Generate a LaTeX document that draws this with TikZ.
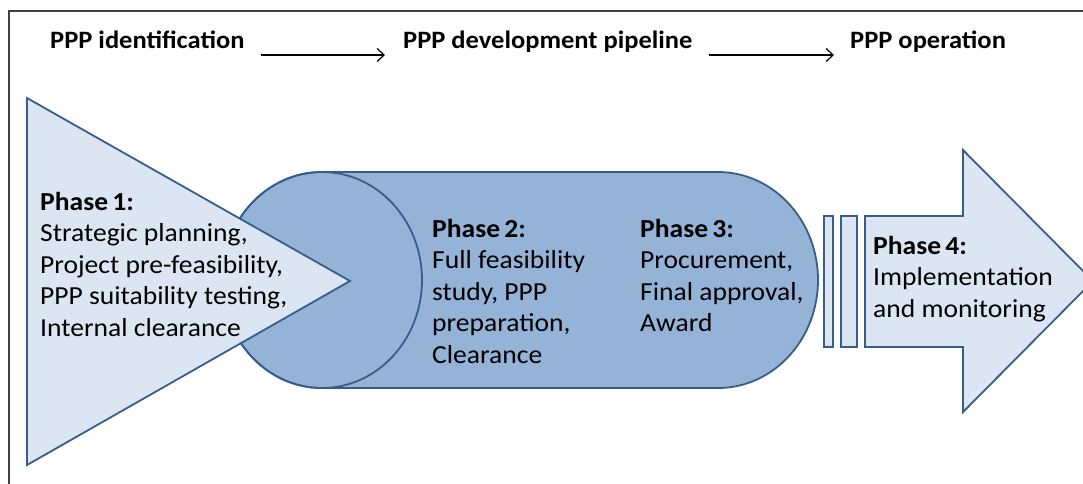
\documentclass[tikz,border=0pt]{standalone}
\usepackage{fontspec}
\setmainfont{Carlito}[FakeStretch=1.06]
\usetikzlibrary{arrows.meta,positioning}
\definecolor{edgeblue}{RGB}{56,93,138}
\definecolor{lightfill}{RGB}{220,230,242}
\definecolor{pipefill}{RGB}{149,179,215}

\begin{document}
\begin{tikzpicture}[x=1pt,y=-1pt,
  shapeline/.style={draw=edgeblue,line width=1.8pt,line join=miter},
  headtext/.style={font=\bfseries\fontsize{25}{30}\selectfont,inner sep=0pt,anchor=base west},
  phasetext/.style={font=\fontsize{26}{31.5}\selectfont,align=left,inner sep=0pt,anchor=north west},
  flow/.style={line width=1.2pt,-{Straight Barb[length=7pt,width=13pt]}}]
\useasboundingbox (0,0) rectangle (1083,483);
\clip (0,0) rectangle (1083,483);
\draw[black!75,line width=2pt] (9,11) rectangle (1120,520);

% header
\node[headtext] (ident) at (50,48) {PPP identification};
\node[headtext] (devel) at (403,48) {PPP development pipeline};
\node[headtext] (oper) at (850,48) {PPP operation};
\draw[flow] ([xshift=16pt,yshift=-7pt]ident.base east) -- ([xshift=-18pt,yshift=-7pt]devel.base west);
\draw[flow] ([xshift=16pt,yshift=-7pt]devel.base east) -- ([xshift=-16pt,yshift=-7pt]oper.base west);

% pipeline (phases 2 and 3)
\draw[shapeline,fill=pipefill] (322,172) -- (718,172)
  arc[start angle=-90,end angle=90,x radius=100,y radius=108] -- (322,388)
  arc[start angle=90,end angle=270,x radius=100,y radius=108] -- cycle;
\draw[shapeline] (322,280) ellipse[x radius=100,y radius=108];

% phase 1 triangle
\draw[shapeline,fill=lightfill] (27,98) -- (350,281) -- (27,465) -- cycle;

% phase 4 bars and arrow
\foreach \xa/\xb in {824/833,841/857}
  \draw[shapeline,fill=lightfill] (\xa,216) rectangle (\xb,347);
\draw[shapeline,fill=lightfill] (865,216) -- (963,216) -- (963,150) -- (1093,281)
  -- (963,412) -- (963,347) -- (865,347) -- cycle;

% phase texts
\node[phasetext] (phaseone) at (40,192) {\textbf{Phase\,1:}\\Strategic planning,\\Project pre-feasibility,\\PPP suitability testing,\\Internal clearance};
\node[phasetext] (phasetwo) at (432,219) {\textbf{Phase\,2:}\\Full feasibility\\study, PPP\\preparation,\\Clearance};
\node[phasetext] (phasethree) at (640,219) {\textbf{Phase\,3:}\\Procurement,\\Final approval,\\Award};
\node[phasetext] (phasefour) at (873,236) {\textbf{Phase\,4:}\\Implementation\\and monitoring};
\end{tikzpicture}
\end{document}
